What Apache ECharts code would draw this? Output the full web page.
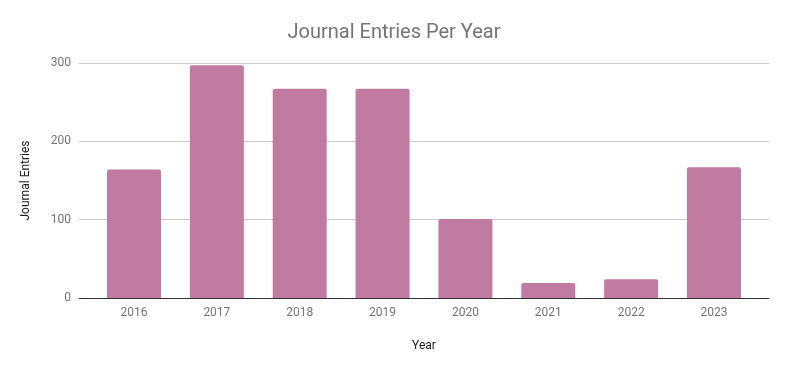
<!DOCTYPE html>
<html><head><meta charset="utf-8">
<script src="https://cdn.jsdelivr.net/npm/echarts@6/dist/echarts.min.js"></script>
<style>html,body{margin:0;padding:0;background:#fff}#c{width:788px;height:371px}</style>
</head><body><div id="c"></div>
<script>
const categories = ['2016','2017','2018','2019','2020','2021','2022','2023'];
const entries = [164, 297, 267, 267, 101, 19, 24, 167];
const yTicks = [0, 100, 200, 300];

const idx = categories.map((c, i) => i);
const chart = echarts.init(document.getElementById('c'), null, {renderer: 'canvas'});
chart.setOption({
  animation: false,
  backgroundColor: '#ffffff',
  title: {
    text: 'Journal Entries Per Year',
    left: 'center', top: 18,
    textStyle: {fontFamily: 'Roboto', fontSize: 20, fontWeight: 'normal', color: '#757575'}
  },
  grid: {left: 79, right: 19, top: 63, bottom: 73},
  xAxis: {
    type: 'value', min: -0.664, max: categories.length - 1 + 0.664,
    name: 'Year', nameLocation: 'middle', nameGap: 42,
    nameTextStyle: {fontFamily: 'Roboto', fontSize: 12, color: '#222222'},
    axisLine: {show: true, onZero: false, lineStyle: {color: '#333333', width: 1}},
    axisTick: {show: false},
    splitLine: {show: false},
    axisLabel: {
      fontFamily: 'Roboto', fontSize: 12, color: '#757575', margin: 9,
      customValues: idx, showMinLabel: true, showMaxLabel: true,
      formatter: v => categories[Math.round(v)] || ''
    }
  },
  yAxis: {
    type: 'value', min: yTicks[0], max: yTicks[yTicks.length - 1], interval: 100,
    name: 'Journal Entries', nameLocation: 'middle', nameGap: 47, nameRotate: 90,
    nameTextStyle: {fontFamily: 'Roboto', fontSize: 12, color: '#222222'},
    axisLine: {show: false}, axisTick: {show: false},
    axisLabel: {fontFamily: 'Roboto', fontSize: 12, color: '#757575', margin: 8},
    splitLine: {lineStyle: {color: '#cccccc', width: 1}}
  },
  series: [{
    type: 'bar', data: entries.map((v, i) => [idx[i], v]), barWidth: 54,
    itemStyle: {color: '#c27ba0', borderRadius: [2, 2, 0, 0]}
  }]
});
</script></body></html>
